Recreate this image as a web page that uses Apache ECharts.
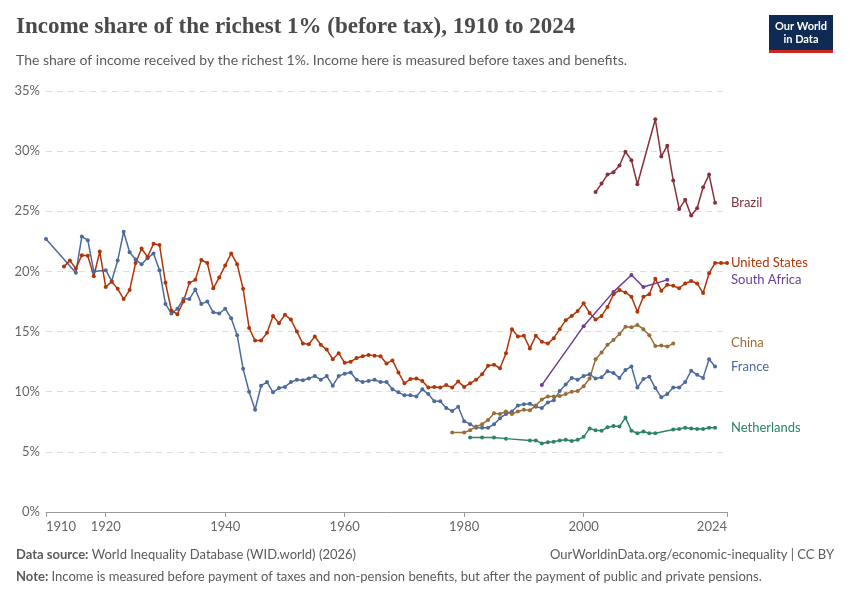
<!DOCTYPE html>
<html><head><meta charset="utf-8">
<script src="https://cdn.jsdelivr.net/npm/echarts@6/dist/echarts.min.js"></script>
<style>html,body{margin:0;padding:0;background:#fff}#c{width:850px;height:600px}</style>
</head><body><div id="c"></div>
<script>
const franceYears=[1910,1915,1916,1917,1918,1920,1921,1922,1923,1924,1925,1926,1927,1928,1929,1930,1931,1932,1933,1934,1935,1936,1937,1938,1939,1940,1941,1942,1943,1944,1945,1946,1947,1948,1949,1950,1951,1952,1953,1954,1955,1956,1957,1958,1959,1960,1961,1962,1963,1964,1965,1966,1967,1968,1969,1970,1971,1972,1973,1974,1975,1976,1977,1978,1979,1980,1981,1982,1983,1984,1985,1986,1987,1988,1989,1990,1991,1992,1993,1994,1995,1996,1997,1998,1999,2000,2001,2002,2003,2004,2005,2006,2007,2008,2009,2010,2011,2012,2013,2014,2015,2016,2017,2018,2019,2020,2021,2022];
const franceValues=[22.7,19.9,22.9,22.6,20.0,20.1,19.2,20.9,23.3,21.6,21.0,20.6,21.1,21.5,20.1,17.3,16.5,16.9,17.7,17.7,18.5,17.3,17.5,16.6,16.5,16.9,16.1,14.7,11.9,10.0,8.5,10.5,10.8,9.95,10.3,10.4,10.8,11.0,10.95,11.1,11.3,11.0,11.3,10.5,11.3,11.5,11.6,11.0,10.8,10.9,11.0,10.8,10.8,10.2,9.95,9.7,9.7,9.6,10.2,9.8,9.2,9.2,8.65,8.4,8.75,7.55,7.3,7.0,7.0,7.0,7.3,7.8,8.15,8.35,8.85,8.95,9.0,8.75,8.65,9.1,9.3,10.05,10.6,11.15,11.0,11.3,11.45,11.1,11.2,11.7,11.55,11.15,11.8,12.1,10.35,11.05,11.25,10.3,9.55,9.8,10.35,10.35,10.8,11.75,11.4,11.15,12.7,12.1];
const usYears=[1913,1914,1915,1916,1917,1918,1919,1920,1921,1922,1923,1924,1925,1926,1927,1928,1929,1930,1931,1932,1933,1934,1935,1936,1937,1938,1939,1940,1941,1942,1943,1944,1945,1946,1947,1948,1949,1950,1951,1952,1953,1954,1955,1956,1957,1958,1959,1960,1961,1962,1963,1964,1965,1966,1967,1968,1969,1970,1971,1972,1973,1974,1975,1976,1977,1978,1979,1980,1981,1982,1983,1984,1985,1986,1987,1988,1989,1990,1991,1992,1993,1994,1995,1996,1997,1998,1999,2000,2001,2002,2003,2004,2005,2006,2007,2008,2009,2010,2011,2012,2013,2014,2015,2016,2017,2018,2019,2020,2021,2022,2023,2024];
const usValues=[20.4,20.9,20.25,21.35,21.3,19.6,21.65,18.7,19.15,18.55,17.7,18.45,20.7,21.9,21.2,22.3,22.2,19.05,16.75,16.45,17.5,19.05,19.3,20.95,20.7,18.6,19.5,20.5,21.5,20.6,18.55,15.3,14.25,14.25,14.9,16.3,15.7,16.4,16.0,15.0,14.0,13.95,14.6,13.9,13.5,12.7,13.2,12.4,12.5,12.8,12.95,13.05,13.0,12.95,12.35,12.6,11.6,10.7,11.05,11.1,10.9,10.35,10.4,10.35,10.55,10.35,10.85,10.4,10.7,11.0,11.45,12.15,12.25,11.95,13.2,15.2,14.6,14.65,13.6,14.65,14.15,14.0,14.45,15.2,15.95,16.3,16.7,17.35,16.55,16.0,16.3,17.05,18.1,18.45,18.25,17.9,16.65,17.9,18.1,19.4,18.4,18.9,18.8,18.6,19.0,19.2,19.0,18.2,19.85,20.7,20.7,20.7];
const brazilYears=[2002,2003,2004,2005,2006,2007,2008,2009,2012,2013,2014,2015,2016,2017,2018,2019,2020,2021,2022];
const brazilValues=[26.6,27.3,28.05,28.25,28.8,29.95,29.25,27.25,32.65,29.55,30.45,27.55,25.2,25.95,24.65,25.25,27.0,28.05,25.7];
const saYears=[1993,2000,2005,2008,2010,2014];
const saValues=[10.55,15.45,18.3,19.7,18.7,19.3];
const chinaYears=[1978,1980,1981,1982,1983,1984,1985,1986,1987,1988,1989,1990,1991,1992,1993,1994,1995,1996,1997,1998,1999,2000,2001,2002,2003,2004,2005,2006,2007,2008,2009,2010,2011,2012,2013,2014,2015];
const chinaValues=[6.6,6.6,6.8,7.1,7.3,7.65,8.2,8.15,8.35,8.15,8.35,8.5,8.45,8.85,9.35,9.6,9.6,9.65,9.8,10.0,10.05,10.45,11.1,12.7,13.25,13.9,14.3,14.8,15.4,15.35,15.55,15.2,14.7,13.8,13.85,13.75,14.0];
const nlYears=[1981,1983,1985,1987,1991,1992,1993,1994,1995,1996,1997,1998,1999,2000,2001,2002,2003,2004,2005,2006,2007,2008,2009,2010,2011,2012,2015,2016,2017,2018,2019,2020,2021,2022];
const nlValues=[6.2,6.2,6.2,6.1,5.95,5.95,5.7,5.8,5.85,5.95,6.0,5.9,6.0,6.25,6.95,6.8,6.75,7.05,7.15,7.1,7.85,6.75,6.55,6.7,6.55,6.55,6.85,6.9,7.0,6.95,6.9,6.9,7.0,7.0];
const xTicks=[1910,1920,1940,1960,1980,2000,2024];

const zip=(a,b)=>a.map((y,i)=>[y,b[i]]);
const mk=(name,ys,vs,color)=>({name,type:'line',data:zip(ys,vs),symbol:'circle',symbolSize:4,showSymbol:true,
  lineStyle:{width:1.5,color},itemStyle:{color},animation:false});
const F='Lato, "Noto Sans", sans-serif';
const chart=echarts.init(document.getElementById('c'));
chart.setOption({
  animation:false,
  grid:{left:46,right:123,top:91,bottom:88},
  xAxis:{type:'value',min:1910,max:2024,
    axisLine:{lineStyle:{color:'#999'}},
    axisTick:{show:true,customValues:xTicks,length:5,lineStyle:{color:'#999'}},
    axisLabel:{customValues:xTicks,formatter:v=>String(v),color:'#666',fontFamily:F,fontSize:13,alignMinLabel:'left',alignMaxLabel:'right',margin:8},
    splitLine:{show:false}},
  yAxis:{type:'value',min:0,max:35,interval:5,
    axisLabel:{formatter:'{value}%',color:'#666',fontFamily:F,fontSize:13,margin:6},
    axisLine:{show:false},axisTick:{show:false},
    splitLine:{lineStyle:{color:'#ddd',type:[6,5]}}},
  series:[
    mk('France',franceYears,franceValues,'#4c6a9c'),
    mk('United States',usYears,usValues,'#b13507'),
    mk('Brazil',brazilYears,brazilValues,'#883039'),
    mk('South Africa',saYears,saValues,'#6d3e91'),
    mk('China',chinaYears,chinaValues,'#9a6d38'),
    mk('Netherlands',nlYears,nlValues,'#2c8465')
  ],
  graphic:[
    {type:'text',left:16,top:16,style:{text:'Income share of the richest 1% (before tax), 1910 to 2024',font:'bold 23px "Liberation Serif", "DejaVu Serif", serif',fill:'#4a4a4a'}},
    {type:'text',left:16,top:53,style:{text:'The share of income received by the richest 1%. Income here is measured before taxes and benefits.',font:'14px '+F,fill:'#5b5b5b'}},
    {type:'rect',shape:{x:769,y:15,width:64,height:35},style:{fill:'#0f2a53'}},
    {type:'rect',shape:{x:769,y:50,width:64,height:3},style:{fill:'#ce261e'}},
    {type:'text',x:801,y:33,style:{text:'Our World\nin Data',font:'bold 11px '+F,fill:'#fff',align:'center',verticalAlign:'middle',lineHeight:13}},
    {type:'text',left:731,top:196,style:{text:'Brazil',font:'13px '+F,fill:'#883039'}},
    {type:'text',left:731,top:256,style:{text:'United States',font:'13px '+F,fill:'#b13507'}},
    {type:'text',left:731,top:273,style:{text:'South Africa',font:'13px '+F,fill:'#6d3e91'}},
    {type:'text',left:731,top:336,style:{text:'China',font:'13px '+F,fill:'#9a6d38'}},
    {type:'text',left:731,top:360,style:{text:'France',font:'13px '+F,fill:'#4c6a9c'}},
    {type:'text',left:731,top:421,style:{text:'Netherlands',font:'13px '+F,fill:'#2c8465'}},
    {type:'text',left:16,top:548,style:{rich:{b:{font:'bold 13px '+F,fill:'#5b5b5b'},n:{font:'13px '+F,fill:'#5b5b5b'}},text:'{b|Data source:} {n|World Inequality Database (WID.world) (2026)}'}},
    {type:'text',right:16,top:548,style:{text:'OurWorldinData.org/economic-inequality | CC BY',font:'13px '+F,fill:'#5b5b5b'}},
    {type:'text',left:16,top:570,style:{rich:{b:{font:'bold 13px '+F,fill:'#5b5b5b'},n:{font:'13px '+F,fill:'#5b5b5b'}},text:'{b|Note:} {n|Income is measured before payment of taxes and non-pension benefits, but after the payment of public and private pensions.}'}}
  ]
});
</script></body></html>
